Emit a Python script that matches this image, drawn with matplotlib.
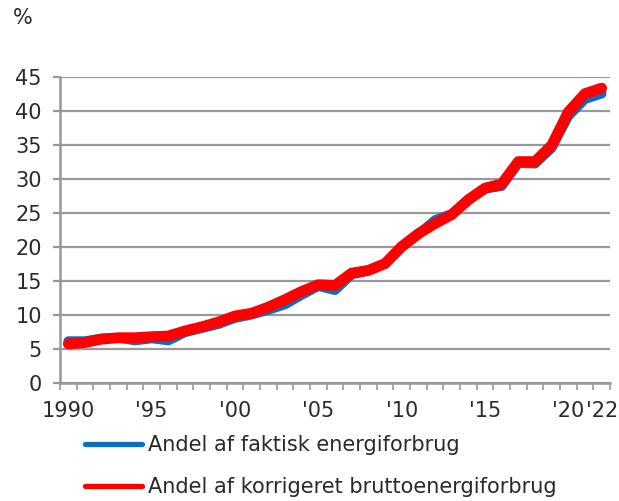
import matplotlib
matplotlib.use("Agg")
import matplotlib.pyplot as plt
from matplotlib.lines import Line2D
import numpy as np

years = list(range(1990, 2023))
faktisk = [6.2, 6.2, 6.6, 6.7, 6.3, 6.6, 6.3, 7.5, 8.1, 8.7, 9.6, 10.1, 10.8, 11.6, 13.0,
           14.3, 13.7, 16.0, 16.6, 17.6, 20.0, 21.9, 24.0, 24.9, 26.9, 28.6, 29.0, 32.4,
           32.3, 34.6, 39.3, 41.8, 42.6]
korrigeret = [5.8, 6.0, 6.5, 6.7, 6.7, 6.85, 6.95, 7.7, 8.3, 9.0, 9.9, 10.3, 11.2, 12.3, 13.5,
              14.5, 14.4, 16.2, 16.6, 17.6, 20.1, 22.0, 23.5, 24.8, 27.0, 28.7, 29.3, 32.6,
              32.6, 35.0, 39.9, 42.6, 43.4]
xlabels = {1990: "1990", 1995: "'95", 2000: "'00", 2005: "'05", 2010: "'10",
           2015: "'15", 2020: "'20", 2022: "'22"}
yticks = [0, 5, 10, 15, 20, 25, 30, 35, 40, 45]
legend_labels = ["Andel af faktisk energiforbrug", "Andel af korrigeret bruttoenergiforbrug"]

blue = "#0a6fc2"
red = "#ff0000"
grid_c = "#999999"
text_c = "#2a2a2a"

plt.rcParams['font.family'] = ['DejaVu Sans']

fig = plt.figure(figsize=(6.19, 5.01), dpi=100)
ax = fig.add_axes([60/619, (501-383.3)/501, 550/619, 306/501])

x = np.arange(len(years))
ax.plot(x, faktisk, color=blue, lw=7.0, solid_capstyle='round', solid_joinstyle='round', zorder=3)
ax.plot(x, korrigeret, color=red, lw=7.8, solid_capstyle='round', solid_joinstyle='round', zorder=4)

ax.set_xlim(-0.5, len(years) - 0.5)
ax.set_ylim(0, 45)
ax.set_yticks(yticks)
ax.set_yticklabels([str(v) for v in yticks])
ax.yaxis.grid(True, color=grid_c, lw=1.6)
ax.set_axisbelow(True)

pos = [years.index(y) for y in xlabels]
ax.set_xticks(pos)
ax.set_xticklabels(list(xlabels.values()))
ax.set_xticks(np.arange(len(years) + 1) - 0.5, minor=True)
ax.tick_params(axis='x', which='major', length=0, pad=13, labelsize=15, labelcolor=text_c)
ax.tick_params(axis='x', which='minor', length=5, width=1.2, color=grid_c, direction='out')
ax.tick_params(axis='y', length=5, width=1.6, color=grid_c, pad=8, labelsize=15, labelcolor=text_c)

for s in ['top', 'right']:
    ax.spines[s].set_visible(False)
for s in ['left', 'bottom']:
    ax.spines[s].set_color(grid_c)
    ax.spines[s].set_linewidth(1.8)

fig.text(13/619, 1 - 8/501, "%", fontsize=15, color=text_c, ha='left', va='top')

handles = [Line2D([], [], color=blue, lw=3.8, solid_capstyle='round'),
           Line2D([], [], color=red, lw=3.8, solid_capstyle='round')]
fig.legend(handles, legend_labels, loc='upper left', bbox_to_anchor=(85/619, 1 - 435/501),
           frameon=False, fontsize=15, handlelength=2.75, handletextpad=0.25,
           labelspacing=1.05, borderpad=0, borderaxespad=0, labelcolor=text_c)

fig.savefig("out.png", dpi=100)
